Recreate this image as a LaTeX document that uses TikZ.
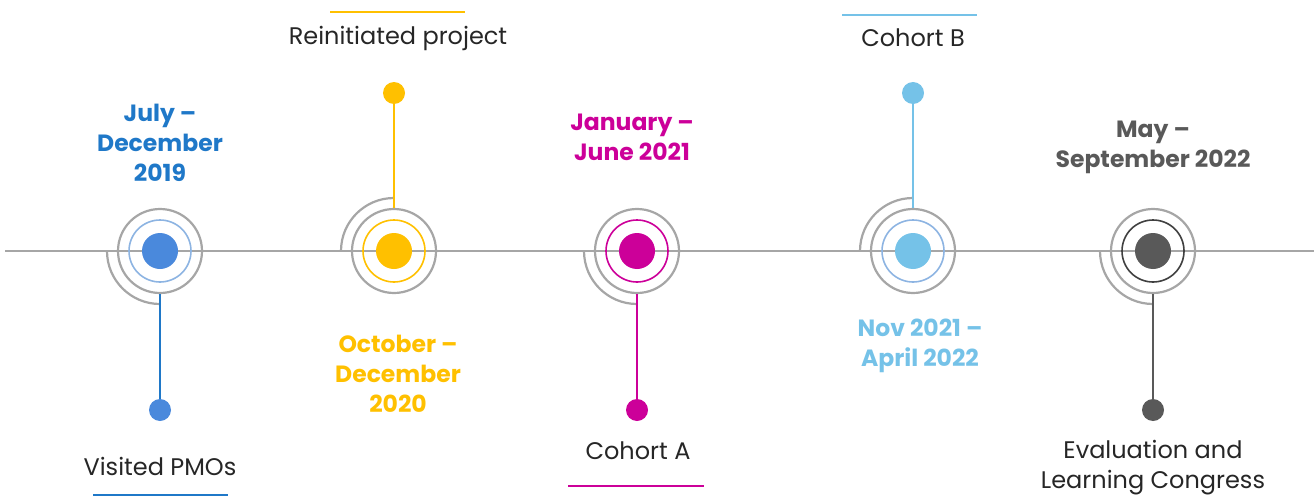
\documentclass[tikz,border=0pt]{standalone}
\usepackage{fontspec}
\setmainfont{Poppins}
\usetikzlibrary{positioning}
\definecolor{linegray}{HTML}{A6A6A6}
\definecolor{txtgray}{HTML}{262626}
\definecolor{blueA}{HTML}{1F78C8}
\definecolor{blueDot}{HTML}{4A89DC}
\definecolor{blueRing}{HTML}{8DB4E2}
\definecolor{gold}{HTML}{FFC000}
\definecolor{magenta}{HTML}{CC0099}
\definecolor{sky}{HTML}{75C2E8}
\definecolor{darkgray}{HTML}{595959}
\definecolor{darkring}{HTML}{404040}

\begin{document}
\begin{tikzpicture}[x=1pt,y=1pt]
                    \tikzstyle{every node}+=[inner sep=0pt]
                    \tikzstyle{ring}=[circle, draw=linegray, line width=2.2pt, minimum size=84pt]
                    \tikzstyle{inring}=[circle, line width=1.6pt, minimum size=62pt]
                    \tikzstyle{bigdot}=[circle, minimum size=36pt]
                    \tikzstyle{pin}=[circle, minimum size=22pt]
                    \tikzstyle{datetext}=[align=center, font=\fontsize{23.5}{30}\selectfont\bfseries]
                    \tikzstyle{desctext}=[align=center, text=txtgray, font=\fontsize{24}{30}\selectfont]
                    \useasboundingbox (0,0) rectangle (1314,-503);
                    % time line
                    \draw [linegray, line width=2pt] (5,-251) -- (1314,-251);
                    % milestone 1
                    \node [ring] (r1) at (160,-251) {};
                    \node [inring, draw=blueRing] (i1) at (r1) {};
                    \node [bigdot, fill=blueDot] (c1) at (r1) {};
                    \draw [linegray, line width=2.2pt] (r1.center) ++(180:53) arc (180:270:53);
                    \node [pin, fill=blueDot] (p1) at (160,-410) {};
                    \draw [blueA, line width=2pt] (r1.south) -- (p1);
                    \node [datetext, text=blueA] (d1) at (160,-143) {July –\\December\\2019};
                    \node [desctext] (t1) at (160,-466) {Visited PMOs};
                    \draw [blueA, line width=2pt] (93,-495) -- (228,-495);
                    % milestone 2
                    \node [ring] (r2) at (394,-251) {};
                    \node [inring, draw=gold] (i2) at (r2) {};
                    \node [bigdot, fill=gold] (c2) at (r2) {};
                    \draw [linegray, line width=2.2pt] (r2.center) ++(90:53) arc (90:180:53);
                    \node [pin, fill=gold] (p2) at (394,-93) {};
                    \draw [gold, line width=2pt] (r2.north) -- (p2);
                    \node [datetext, text=gold] (d2) at (398,-374) {October –\\December\\2020};
                    \node [desctext] (t2) at (398,-38) {Reinitiated project};
                    \draw [gold, line width=2pt] (330,-12) -- (465,-12);
                    % milestone 3
                    \node [ring] (r3) at (637,-251) {};
                    \node [inring, draw=magenta] (i3) at (r3) {};
                    \node [bigdot, fill=magenta] (c3) at (r3) {};
                    \draw [linegray, line width=2.2pt] (r3.center) ++(180:53) arc (180:270:53);
                    \node [pin, fill=magenta] (p3) at (637,-410) {};
                    \draw [magenta, line width=2pt] (r3.south) -- (p3);
                    \node [datetext, text=magenta] (d3) at (632,-137) {January –\\June 2021};
                    \node [desctext] (t3) at (638,-451) {Cohort A};
                    \draw [magenta, line width=2pt] (568,-486) -- (704,-486);
                    % milestone 4
                    \node [ring] (r4) at (913,-251) {};
                    \node [inring, draw=blueRing] (i4) at (r4) {};
                    \node [bigdot, fill=sky] (c4) at (r4) {};
                    \draw [linegray, line width=2.2pt] (r4.center) ++(90:53) arc (90:180:53);
                    \node [pin, fill=sky] (p4) at (913,-93) {};
                    \draw [sky, line width=2pt] (r4.north) -- (p4);
                    \node [datetext, text=sky] (d4) at (920,-346) {Nov 2021 –\\April 2022};
                    \node [desctext] (t4) at (913,-38) {Cohort B};
                    \draw [sky, line width=2pt] (842,-15) -- (977,-15);
                    % milestone 5
                    \node [ring] (r5) at (1153,-251) {};
                    \node [inring, draw=darkring] (i5) at (r5) {};
                    \node [bigdot, fill=darkgray] (c5) at (r5) {};
                    \draw [linegray, line width=2.2pt] (r5.center) ++(180:53) arc (180:270:53);
                    \node [pin, fill=darkgray] (p5) at (1153,-410) {};
                    \draw [darkgray, line width=2pt] (r5.south) -- (p5);
                    \node [datetext, text=darkgray] (d5) at (1153,-147) {May –\\September 2022};
                    \node [desctext] (t5) at (1153,-468) {Evaluation and\\Learning Congress};
\end{tikzpicture}
\end{document}
